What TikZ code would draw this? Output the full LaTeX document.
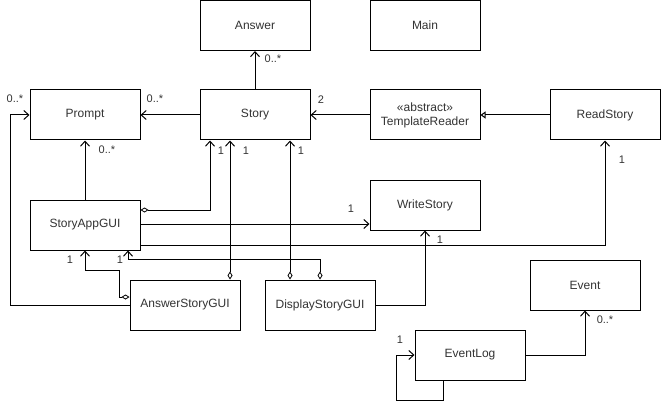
\documentclass[tikz,border=0pt]{standalone}
\usepackage{fontspec}
\setmainfont{Liberation Sans}
\usetikzlibrary{arrows.meta}
\definecolor{txt}{HTML}{333333}
\tikzset{
  cls/.style={draw, line width=1pt, fill=white, minimum width=110pt, minimum height=50pt,
    inner sep=2pt, text=txt, font=\fontsize{12}{14}\selectfont, align=center},
  conn/.style={line width=1pt},
  assoc/.style={conn, -{Straight Barb[length=5pt,width=9pt,line width=1pt]}},
  agg/.style={conn, {Diamond[open,length=8pt,width=5pt,line width=0.8pt]}-{Straight Barb[length=5pt,width=9pt,line width=1pt]}},
  inherit/.style={conn, -{Triangle[open,length=5pt,width=7pt,line width=1pt]}},
  mult/.style={text=txt, font=\fontsize{11}{13}\selectfont, inner sep=0pt}
}
\begin{document}
\begin{tikzpicture}[x=1pt, y=-1pt]
\useasboundingbox (0,0) rectangle (661,409);

% classes
\node[cls] (answer) at (255,25.5) {Answer};
\node[cls] (main)   at (425,25.5) {Main};
\node[cls] (prompt) at (85,115)  {Prompt};
\node[cls] (story)  at (255,115) {Story};
\node[cls] (tr)     at (425,115) {«abstract»\\TemplateReader};
\node[cls] (rs)     at (605,115) {ReadStory};
\node[cls] (sag)    at (85,225)  {StoryAppGUI};
\node[cls] (ws)     at (425,205) {WriteStory};
\node[cls] (asg)    at (185,305) {AnswerStoryGUI};
\node[cls] (dsg)    at (320,305) {DisplayStoryGUI};
\node[cls] (ev)     at (585,285) {Event};
\node[cls] (el)     at (470,355) {EventLog};

\coordinate (leftrail) at (10,0);

% associations between the core classes
\draw[assoc] (story.north) -- (answer.south);
\draw[assoc] (story.west) -- (prompt.east);
\draw[assoc] (tr.west) -- (story.east);
\draw[inherit] (rs.west) -- (tr.east);
\draw[assoc] (sag.north) -- (prompt.south);
\draw[assoc] (asg.west) -- (asg.west -| leftrail) |- (prompt.west);

% GUI classes holding a Story
\draw[agg] ([yshift=15pt]sag.east) -| ([xshift=-45pt]story.south);
\draw[agg] ([xshift=45pt]asg.north) -- ([xshift=-25pt]story.south);
\draw[agg] ([xshift=-30pt]dsg.north) -- ([xshift=35pt]story.south);

% StoryAppGUI to the readers and writers
\draw[assoc] ([yshift=1pt]sag.east) -- ([yshift=1pt]sag.east -| ws.west);
\draw[assoc] ([yshift=-20pt]sag.east) -| (rs.south);
\draw[assoc] (dsg.east) -| (ws.south);

% sub-windows back to StoryAppGUI
\draw[agg] ([yshift=8pt]asg.west) -- ++(-10,0) -- ++(0,-27) -| (sag.south);
\draw[agg] (dsg.north) -- ++(0,-20) -| ([xshift=43pt]sag.south);

% event logging
\draw[assoc] (el.east) -| (ev.south);
\draw[assoc] ([xshift=-27pt]el.south) -- ++(0,20) -- ++(-47,0) |- (el.west);

% multiplicities
\node[mult] (m1)  at (273,59)  {0..*};
\node[mult] (m2)  at (155,99)  {0..*};
\node[mult] (m3)  at (15,99)   {0..*};
\node[mult] (m4)  at (321,100) {2};
\node[mult] (m5)  at (107,150) {0..*};
\node[mult] (m6)  at (221,151) {1};
\node[mult] (m7)  at (246,151) {1};
\node[mult] (m8)  at (301,151) {1};
\node[mult] (m9)  at (622,160) {1};
\node[mult] (m10) at (351,209) {1};
\node[mult] (m11) at (440,240) {1};
\node[mult] (m12) at (70,260)  {1};
\node[mult] (m13) at (120,260) {1};
\node[mult] (m14) at (605,320) {0..*};
\node[mult] (m15) at (400,340) {1};
\end{tikzpicture}
\end{document}
